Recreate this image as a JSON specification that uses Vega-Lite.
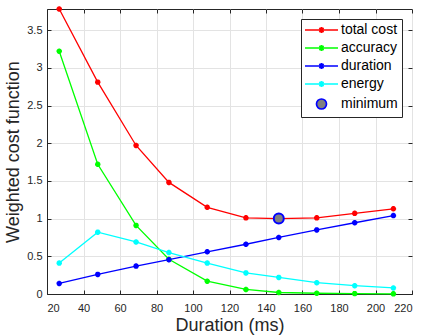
{
  "$schema": "https://vega.github.io/schema/vega-lite/v6.json",
  "width": 365,
  "height": 285,
  "autosize": "none",
  "padding": {"left": 47, "top": 9, "right": 11, "bottom": 41},
  "background": "white",
  "config": {
    "font": "Liberation Sans",
    "view": {"stroke": "#262626", "strokeWidth": 1},
    "axis": {
      "labelFont": "Liberation Sans",
      "titleFont": "Liberation Sans",
      "labelFontSize": 11,
      "labelColor": "#262626",
      "titleColor": "#262626",
      "titleFontWeight": "normal",
      "titleFontSize": 18,
      "domainColor": "#262626",
      "tickColor": "#262626",
      "gridColor": "#e3e3e3",
      "gridOpacity": 1,
      "tickSize": -4,
      "labelPadding": 9
    },
    "legend": {
      "orient": "top-right", "offset": 10, "title": null,
      "fillColor": "white", "strokeColor": "#262626",
      "padding": 4, "labelFontSize": 14, "labelColor": "#000000", "labelFont": "Liberation Sans",
      "symbolSize": 144, "symbolStrokeWidth": 1.7, "labelOffset": 22, "symbolOpacity": 1,
      "rowPadding": 4, "columnPadding": 0
    }
  },
  "datasets": {
    "curves": [
      {"series": "total cost", "duration": 26.7, "cost": 3.78},
      {"series": "total cost", "duration": 47.8, "cost": 2.81},
      {"series": "total cost", "duration": 68.8, "cost": 1.97},
      {"series": "total cost", "duration": 86.8, "cost": 1.48},
      {"series": "total cost", "duration": 107.8, "cost": 1.15},
      {"series": "total cost", "duration": 129, "cost": 1.01},
      {"series": "total cost", "duration": 147, "cost": 1.0},
      {"series": "total cost", "duration": 167.8, "cost": 1.01},
      {"series": "total cost", "duration": 188.6, "cost": 1.07},
      {"series": "total cost", "duration": 209.8, "cost": 1.13},
      {"series": "accuracy", "duration": 26.7, "cost": 3.22},
      {"series": "accuracy", "duration": 47.8, "cost": 1.72},
      {"series": "accuracy", "duration": 68.8, "cost": 0.91},
      {"series": "accuracy", "duration": 86.8, "cost": 0.46},
      {"series": "accuracy", "duration": 107.8, "cost": 0.17},
      {"series": "accuracy", "duration": 129, "cost": 0.06},
      {"series": "accuracy", "duration": 147, "cost": 0.02},
      {"series": "accuracy", "duration": 167.8, "cost": 0.01},
      {"series": "accuracy", "duration": 188.6, "cost": 0.005},
      {"series": "accuracy", "duration": 209.8, "cost": 0.002},
      {"series": "duration", "duration": 26.7, "cost": 0.14},
      {"series": "duration", "duration": 47.8, "cost": 0.26},
      {"series": "duration", "duration": 68.8, "cost": 0.37},
      {"series": "duration", "duration": 86.8, "cost": 0.455},
      {"series": "duration", "duration": 107.8, "cost": 0.56},
      {"series": "duration", "duration": 129, "cost": 0.66},
      {"series": "duration", "duration": 147, "cost": 0.75},
      {"series": "duration", "duration": 167.8, "cost": 0.85},
      {"series": "duration", "duration": 188.6, "cost": 0.945},
      {"series": "duration", "duration": 209.8, "cost": 1.04},
      {"series": "energy", "duration": 26.7, "cost": 0.41},
      {"series": "energy", "duration": 47.8, "cost": 0.82},
      {"series": "energy", "duration": 68.8, "cost": 0.69},
      {"series": "energy", "duration": 86.8, "cost": 0.55},
      {"series": "energy", "duration": 107.8, "cost": 0.41},
      {"series": "energy", "duration": 129, "cost": 0.28},
      {"series": "energy", "duration": 147, "cost": 0.22},
      {"series": "energy", "duration": 167.8, "cost": 0.15},
      {"series": "energy", "duration": 188.6, "cost": 0.11},
      {"series": "energy", "duration": 209.8, "cost": 0.08}
    ],
    "minimum": [
      {"series": "minimum", "duration": 147, "cost": 1.0}
    ]
  },
  "resolve": {"axis": {"x": "independent", "y": "independent"}},
  "layer": [
    {
      "data": {"name": "curves"},
      "mark": {"type": "line", "strokeWidth": 1.3},
      "encoding": {
        "x": {
          "field": "duration", "type": "quantitative",
          "scale": {"domain": [20, 220], "nice": false, "zero": false},
          "axis": {"title": "Duration (ms)", "values": [20, 40, 60, 80, 100, 120, 140, 160, 180, 200, 220], "titlePadding": 3, "labelPadding": 12, "grid": true}
        },
        "y": {
          "field": "cost", "type": "quantitative",
          "scale": {"domain": [0, 3.78], "nice": false},
          "axis": {"title": "Weighted cost function", "values": [0, 0.5, 1, 1.5, 2, 2.5, 3, 3.5], "format": ".1~f", "titlePadding": 4, "grid": true}
        },
        "color": {
          "field": "series", "type": "nominal",
          "scale": {"domain": ["total cost", "accuracy", "duration", "energy"], "range": ["#ff0000", "#00ff00", "#0000ff", "#00ffff"]},
          "legend": null
        }
      }
    },
    {
      "data": {"name": "curves"},
      "mark": {"type": "point", "filled": false, "strokeWidth": 1.8, "size": 30, "opacity": 1, "shape": "M-1,0H1M0,-1V1M-0.7,-0.7L0.7,0.7M-0.7,0.7L0.7,-0.7"},
      "encoding": {
        "x": {
          "field": "duration", "type": "quantitative",
          "axis": {"orient": "top", "labels": false, "title": null, "grid": false, "domain": false, "values": [20, 40, 60, 80, 100, 120, 140, 160, 180, 200, 220]}
        },
        "y": {
          "field": "cost", "type": "quantitative",
          "axis": {"orient": "right", "labels": false, "title": null, "grid": false, "domain": false, "values": [0, 0.5, 1, 1.5, 2, 2.5, 3, 3.5]}
        },
        "color": {"field": "series", "type": "nominal", "legend": null}
      }
    },
    {
      "data": {"name": "minimum"},
      "mark": {"type": "point", "shape": "circle", "size": 100, "strokeWidth": 2, "stroke": "#0000ff", "fill": "#808080", "opacity": 1},
      "encoding": {
        "x": {"field": "duration", "type": "quantitative", "axis": null},
        "y": {"field": "cost", "type": "quantitative", "axis": null}
      }
    },
    {
      "data": {"name": "minimum"},
      "mark": {"type": "point", "strokeWidth": 2, "size": 144, "opacity": 0},
      "encoding": {
        "x": {"field": "duration", "type": "quantitative", "axis": null},
        "y": {"field": "cost", "type": "quantitative", "axis": null},
        "stroke": {
          "field": "series", "type": "nominal",
          "scale": {"domain": ["total cost", "accuracy", "duration", "energy", "minimum"], "range": ["#ff0000", "#00ff00", "#0000ff", "#00ffff", "#0000ff"]}
        },
        "fill": {
          "field": "series", "type": "nominal",
          "scale": {"domain": ["total cost", "accuracy", "duration", "energy", "minimum"], "range": ["transparent", "transparent", "transparent", "transparent", "#808080"]}
        },
        "shape": {
          "field": "series", "type": "nominal",
          "scale": {"domain": ["total cost", "accuracy", "duration", "energy", "minimum"], "range": [
            "M-1.167,0H4.333M1.583,-0.5V0.5M1.233,-0.35L1.933,0.35M1.233,0.35L1.933,-0.35",
            "M-1.167,0H4.333M1.583,-0.5V0.5M1.233,-0.35L1.933,0.35M1.233,0.35L1.933,-0.35",
            "M-1.167,0H4.333M1.583,-0.5V0.5M1.233,-0.35L1.933,0.35M1.233,0.35L1.933,-0.35",
            "M-1.167,0H4.333M1.583,-0.5V0.5M1.233,-0.35L1.933,0.35M1.233,0.35L1.933,-0.35",
            "M2.416,0A0.833,0.833,0,1,1,0.75,0A0.833,0.833,0,1,1,2.416,0Z"
          ]}
        }
      }
    }
  ]
}
